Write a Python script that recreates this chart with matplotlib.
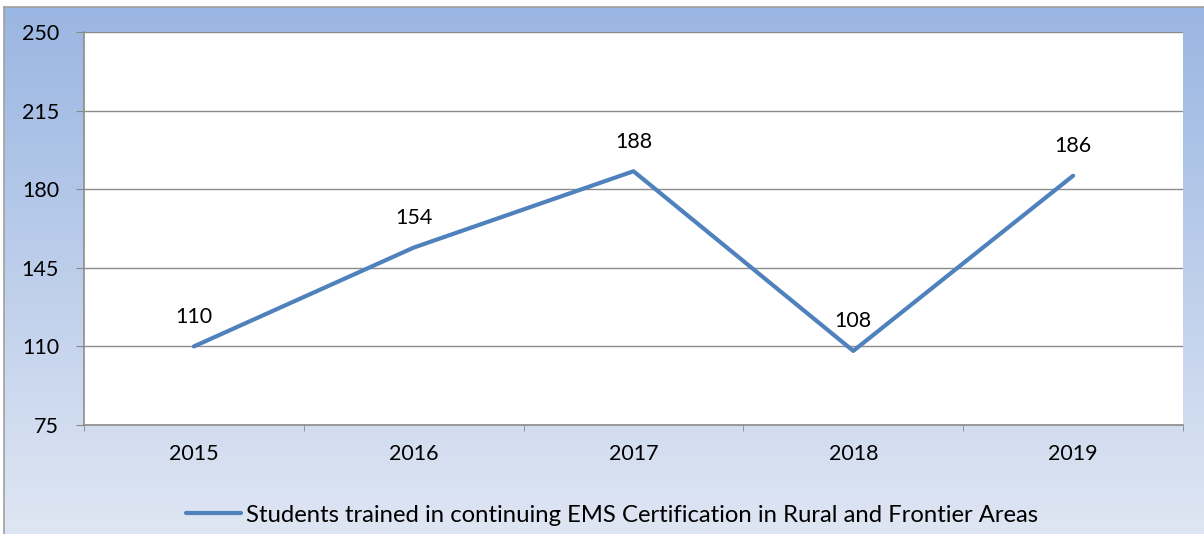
import matplotlib.pyplot as plt
import numpy as np

# Chart data
years = ["2015", "2016", "2017", "2018", "2019"]
students = [110, 154, 188, 108, 186]
y_ticks = [75, 110, 145, 180, 215, 250]
series_name = "Students trained in continuing EMS Certification in Rural and Frontier Areas"

plt.rcParams["font.family"] = ["Lato", "DejaVu Sans"]

fig = plt.figure(figsize=(12.04, 5.34), dpi=100)
fig.patch.set_facecolor("white")

# gradient background panel
bg = fig.add_axes([4 / 1204, 0, 1 - 4 / 1204, (534 - 7) / 534])
grad = np.linspace(0, 1, 256).reshape(-1, 1)
top = np.array([0x9A, 0xB6, 0xE2]) / 255
bottom = np.array([0xDF, 0xE6, 0xF3]) / 255
img = top + (bottom - top) * grad[:, :, None] * np.ones((1, 2, 1))
bg.imshow(img, aspect="auto", extent=[0, 1, 0, 1])
bg.set_xticks([])
bg.set_yticks([])
for side in ["right", "bottom"]:
    bg.spines[side].set_visible(False)
for side in ["left", "top"]:
    bg.spines[side].set_color("#A0A0A0")
    bg.spines[side].set_linewidth(1.2)

ax = fig.add_axes([84 / 1204, (534 - 425) / 534, (1183 - 84) / 1204, (425 - 32) / 534])
ax.set_facecolor("white")
x = np.arange(len(years))
line, = ax.plot(x, students, color="#4F81BD", linewidth=3, solid_capstyle="round",
                label=series_name)
for xi, v in zip(x, students):
    ax.annotate(str(v), (xi, v), xytext=(0, 14), textcoords="offset points",
                ha="center", va="bottom", fontsize=15.5, color="black")

ax.set_xlim(-0.5, len(years) - 0.5)
ax.set_ylim(75, 250)
ax.set_yticks(y_ticks)
ax.set_yticklabels([str(t) for t in y_ticks], fontsize=15.5)
ax.set_xticks(x)
ax.set_xticklabels(years, fontsize=15.5)
ax.set_xticks(np.arange(-0.5, len(years), 1), minor=True)
ax.tick_params(axis="x", which="major", length=0, pad=14)
ax.tick_params(axis="x", which="minor", length=4, color="#888888", direction="out")
ax.tick_params(axis="y", length=6, color="#888888", pad=12)
ax.grid(axis="y", color="#8C8C8C", linewidth=1)
ax.set_axisbelow(True)
for side in ["top", "right"]:
    ax.spines[side].set_visible(False)
for side in ["left", "bottom"]:
    ax.spines[side].set_color("#8C8C8C")
    ax.spines[side].set_linewidth(1.2)

fig.legend(handles=[line], loc="center", bbox_to_anchor=(612 / 1204, 1 - 515 / 534),
           frameon=False, fontsize=17.2, handlelength=2.3, handletextpad=0.2)

fig.savefig("out.png", dpi=100)
